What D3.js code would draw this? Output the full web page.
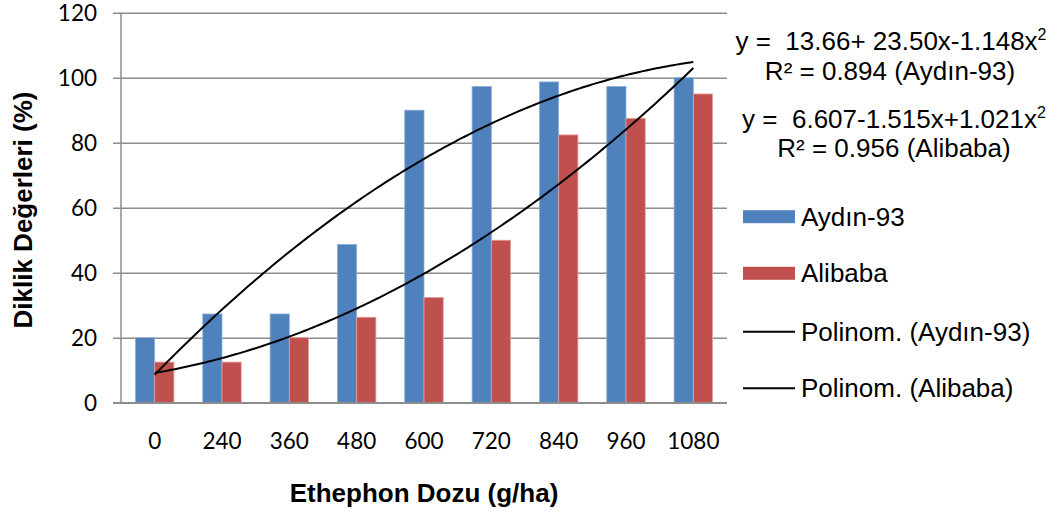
<!DOCTYPE html>
<html>
<head>
<meta charset="utf-8">
<script src="https://cdn.jsdelivr.net/npm/d3@7"></script>
<style>
  html, body { margin: 0; padding: 0; background: #fff; }
  svg { display: block; }
  .tick-label { font-family: Lato, "Open Sans", sans-serif; font-size: 22.5px; fill: #000; }
  .title { font-family: "Liberation Sans", Arial, sans-serif; font-size: 26px; font-weight: bold; fill: #000; }
  .legend, .eq { font-family: "Liberation Sans", Arial, sans-serif; font-size: 26px; fill: #000; }
</style>
</head>
<body>
<svg id="chart" width="1060" height="515"></svg>
<script>
// Ethephon dose categories (g/ha)
const doses = ["0", "240", "360", "480", "600", "720", "840", "960", "1080"];
// Uprightness values (%) per variety
const aydin = [20, 27.3, 27.3, 48.7, 90, 97.3, 98.7, 97.3, 100];
const alibaba = [12.5, 12.5, 20, 26.3, 32.4, 50, 82.4, 87.5, 95];
const seriesNames = ["Aydın-93", "Alibaba"];
const trendNames = ["Polinom. (Aydın-93)", "Polinom. (Alibaba)"];
const yTicks = [0, 20, 40, 60, 80, 100, 120];
const colors = ["#4f81bd", "#c0504d"];
const edgeColors = ["#8fb0da", "#e4a3a1"];

const svg = d3.select("#chart");
svg.append("rect").attr("width", 1060).attr("height", 515).attr("fill", "#fff");

const plot = { left: 121, right: 727, top: 12.7, bottom: 402.7 };

const x = d3.scaleBand().domain(doses).range([plot.left, plot.right]).padding(0);
const xs = d3.scaleBand().domain(seriesNames).range([0, x.bandwidth()])
  .paddingInner(0).paddingOuter(0.75);
const y = d3.scaleLinear().domain([0, 120]).range([plot.bottom, plot.top]);

// horizontal gridlines with outside tick stubs
const yAxis = d3.axisLeft(y).tickValues(yTicks).tickSize(0).tickPadding(24);
const gy = svg.append("g").attr("transform", `translate(${plot.left},0)`).call(yAxis);
gy.select(".domain").remove();
gy.selectAll(".tick text").attr("class", "tick-label").attr("dy", "0.36em");
gy.selectAll(".tick").append("line")
  .attr("x1", -8).attr("x2", plot.right - plot.left)
  .attr("stroke", "#8c8c8c").attr("stroke-width", 1.5);

// vertical axis line
svg.append("line")
  .attr("x1", plot.left).attr("x2", plot.left)
  .attr("y1", plot.top).attr("y2", plot.bottom)
  .attr("stroke", "#8c8c8c").attr("stroke-width", 1.5);

// bars
const data = [aydin, alibaba];
data.forEach((vals, si) => {
  svg.append("g").selectAll("rect").data(vals).join("rect")
    .attr("x", (d, i) => x(doses[i]) + xs(seriesNames[si]))
    .attr("y", d => y(d))
    .attr("width", xs.bandwidth())
    .attr("height", d => y(0) - y(d))
    .attr("fill", colors[si])
    .attr("stroke", edgeColors[si])
    .attr("stroke-width", 0.8);
});

// category axis
const xAxis = d3.axisBottom(x).tickSize(0).tickPadding(30);
const gx = svg.append("g").attr("transform", `translate(0,${plot.bottom})`).call(xAxis);
gx.select(".domain").remove();
gx.selectAll(".tick text").attr("class", "tick-label").attr("dy", "0.71em");
svg.append("line")
  .attr("x1", plot.left - 8).attr("x2", plot.right)
  .attr("y1", plot.bottom).attr("y2", plot.bottom)
  .attr("stroke", "#8c8c8c").attr("stroke-width", 1.5);

// second-order least-squares trendline over category index 1..n
function quadFit(vals) {
  const n = vals.length;
  const xsIdx = vals.map((_, i) => i + 1);
  const mean = d3.mean(xsIdx);
  const u = xsIdx.map(v => v - mean);
  const su2 = d3.sum(u, v => v * v), su4 = d3.sum(u, v => v ** 4);
  const sy = d3.sum(vals);
  const suy = d3.sum(vals, (v, i) => u[i] * v);
  const su2y = d3.sum(vals, (v, i) => u[i] * u[i] * v);
  const c = (su2y - su2 * sy / n) / (su4 - su2 * su2 / n);
  const a = (sy - c * su2) / n;
  const b = suy / su2;
  return k => a + b * (k - mean) + c * (k - mean) ** 2;
}
const xc = d3.scaleLinear().domain([1, doses.length])
  .range([x(doses[0]) + x.bandwidth() / 2, x(doses[doses.length - 1]) + x.bandwidth() / 2]);
const line = d3.line().x(d => xc(d[0])).y(d => y(d[1]));
data.forEach(vals => {
  const f = quadFit(vals);
  const pts = d3.range(1, doses.length + 0.001, 0.05).map(k => [k, f(k)]);
  svg.append("path").attr("d", line(pts))
    .attr("fill", "none").attr("stroke", "#000").attr("stroke-width", 2);
});

// axis titles
svg.append("text").attr("class", "title")
  .attr("transform", "translate(32,210) rotate(-90)")
  .attr("text-anchor", "middle").text("Diklik Değerleri (%)");
svg.append("text").attr("class", "title")
  .attr("x", (plot.left + plot.right) / 2).attr("y", 502)
  .attr("text-anchor", "middle").text("Ethephon Dozu (g/ha)");

// trend equations
function eqLine(xp, yp, parts) {
  const t = svg.append("text").attr("class", "eq").attr("x", xp).attr("y", yp)
    .attr("text-anchor", "middle").attr("xml:space", "preserve");
  parts.forEach(p => {
    const s = t.append("tspan").text(p.text);
    if (p.sup) s.attr("font-size", "16px").attr("dy", "-10");
  });
}
eqLine(891, 50, [{ text: "y =  13.66+ 23.50x-1.148x" }, { text: "2", sup: true }]);
eqLine(890, 80, [{ text: "R² = 0.894 (Aydın-93)" }]);
eqLine(894, 128, [{ text: "y =  6.607-1.515x+1.021x" }, { text: "2", sup: true }]);
eqLine(894, 157, [{ text: "R² = 0.956 (Alibaba)" }]);

// legend
const legRows = [216.7, 273.3, 331.7, 388.3];
seriesNames.forEach((name, i) => {
  svg.append("rect").attr("x", 743).attr("y", legRows[i] - 6.5)
    .attr("width", 52).attr("height", 13).attr("fill", colors[i]);
  svg.append("text").attr("class", "legend").attr("x", 801).attr("y", legRows[i])
    .attr("dy", "0.35em").text(name);
});
trendNames.forEach((name, i) => {
  const yy = legRows[i + 2];
  svg.append("line").attr("x1", 743).attr("x2", 795).attr("y1", yy).attr("y2", yy)
    .attr("stroke", "#000").attr("stroke-width", 2);
  svg.append("text").attr("class", "legend").attr("x", 801).attr("y", yy)
    .attr("dy", "0.35em").text(name);
});
</script>
</body>
</html>
